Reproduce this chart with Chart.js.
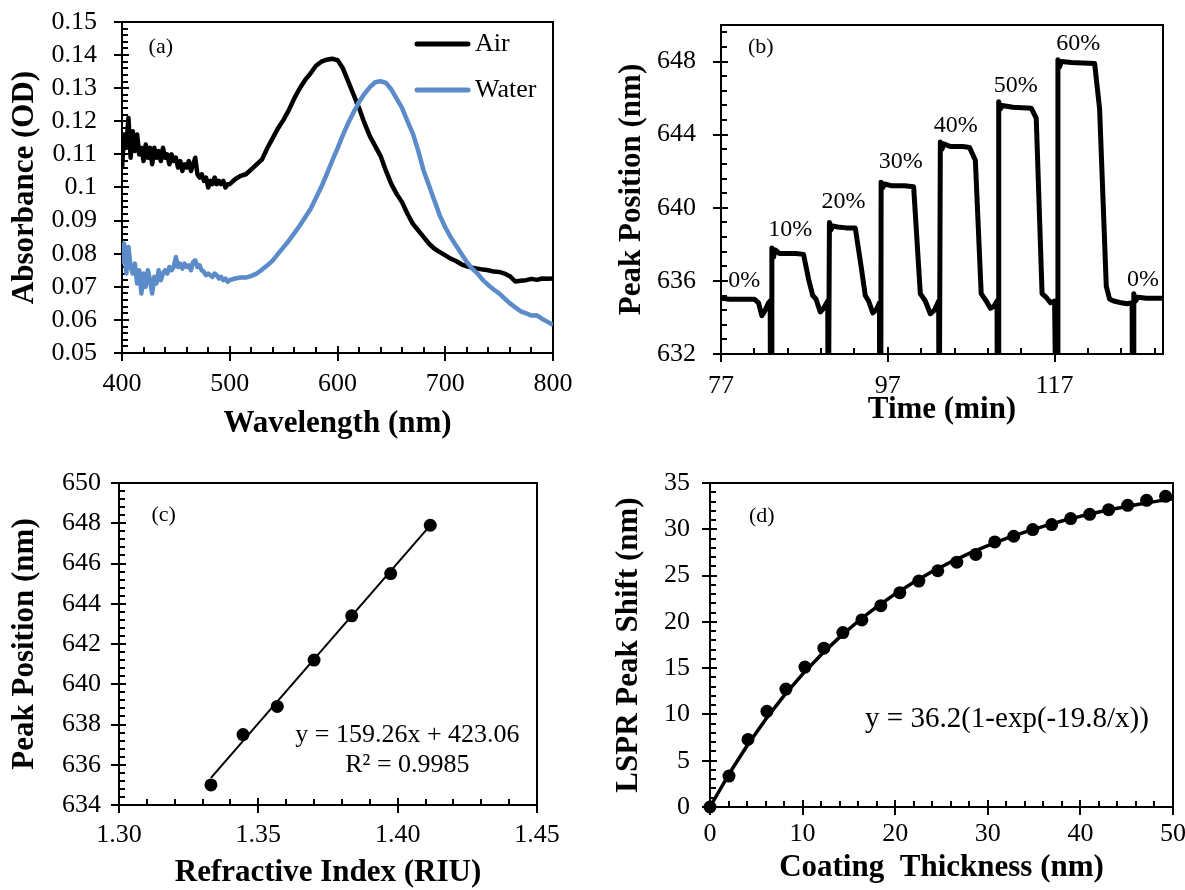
<!DOCTYPE html>
<html><head><meta charset="utf-8">
<script src="https://cdn.jsdelivr.net/npm/chart.js@4.4.1/dist/chart.umd.min.js"></script>
<style>
html,body{margin:0;padding:0;background:#fff;width:1185px;height:890px;overflow:hidden;}
canvas{position:absolute;}
</style></head><body>
<canvas id="ca" width="592" height="445" style="left:0;top:0"></canvas>
<canvas id="cb" width="593" height="445" style="left:592px;top:0"></canvas>
<canvas id="cc" width="592" height="445" style="left:0;top:445px"></canvas>
<canvas id="cd" width="593" height="445" style="left:592px;top:445px"></canvas>
<script>
// ---------- Panel (a): absorbance spectra ----------
const aWavelength = [400,402,404,406,408,410,412,414,416,418,420,422,424,426,428,430,432,434,436,438,440,442,444,446,448,450,452,454,456,458,460,462,464,466,468,470,472,474,476,478,480,482,484,486,488,490,492,494,496,498,500,
505,510,515,520,525,530,535,540,545,550,555,560,565,570,575,580,585,590,595,600,605,610,615,620,625,630,635,640,645,650,655,660,665,670,675,680,685,690,695,700,705,710,715,720,725,730,735,740,745,750,755,760,765,770,775,780,785,790,795,800];
const aAir = [0.106,0.116,0.112,0.121,0.109,0.117,0.111,0.116,0.110,0.112,
0.108,0.113,0.109,0.112,0.107,0.112,0.109,0.111,0.108,0.112,
0.109,0.110,0.107,0.110,0.108,0.109,0.106,0.108,0.105,0.107,
0.106,0.108,0.105,0.107,0.109,0.104,0.103,0.104,0.102,0.103,
0.100,0.102,0.101,0.103,0.101,0.102,0.101,0.102,0.100,0.101,
0.101,
0.1025,0.1035,0.1040,0.1055,0.1070,0.1085,0.1120,0.1150,0.1180,0.1205,
0.1235,0.1270,0.1300,0.1325,0.1345,0.1368,0.1380,0.1386,0.1389,0.1385,
0.1360,0.1320,0.1280,0.1240,0.1195,0.1155,0.1125,0.1095,0.1050,0.1010,
0.0980,0.0955,0.0920,0.0890,0.0870,0.0850,0.0830,0.0815,0.0805,0.0795,
0.0785,0.0778,0.0768,0.0762,0.0758,0.0755,0.0752,0.0750,0.0746,0.0745,
0.0740,0.0732,0.0716,0.0718,0.0720,0.0724,0.0721,0.0725,0.0724,0.0725];
const aWater = [0.077,0.083,0.074,0.082,0.076,0.074,0.077,0.071,0.075,0.068,
0.074,0.070,0.075,0.072,0.068,0.073,0.071,0.075,0.072,0.074,
0.075,0.074,0.076,0.075,0.076,0.079,0.076,0.077,0.0755,0.077,
0.076,0.0765,0.075,0.0775,0.078,0.076,0.0765,0.075,0.0745,0.0735,
0.074,0.0735,0.073,0.074,0.0735,0.0725,0.073,0.072,0.0725,0.0715,
0.072,
0.0725,0.0728,0.0728,0.0733,0.0740,0.0752,0.0765,0.0780,0.0800,0.0820,
0.0840,0.0862,0.0885,0.0910,0.0935,0.0968,0.1002,0.1040,0.1080,0.1118,
0.1158,0.1195,0.1228,0.1258,0.1283,0.1303,0.1318,0.1321,0.1316,0.1296,
0.1268,0.1240,0.1200,0.1163,0.1110,0.1050,0.1005,0.0960,0.0915,0.0880,
0.0850,0.0825,0.0800,0.0775,0.0755,0.0740,0.0720,0.0705,0.0692,0.0680,
0.0665,0.0650,0.0638,0.0626,0.0620,0.0613,0.0614,0.0603,0.0594,0.0585];
const aSeriesNames = ['Air','Water'];
const aXTicks = [400,500,600,700,800];
const aXLabels = ['400','500','600','700','800'];
const aYTicks = [0.05,0.06,0.07,0.08,0.09,0.10,0.11,0.12,0.13,0.14,0.15];
const aYLabels = ['0.05','0.06','0.07','0.08','0.09','0.1','0.11','0.12','0.13','0.14','0.15'];

// ---------- Panel (b): peak position vs time ----------
const bTime = [77,78,79,80,81, 81.5,81.9,82.3,82.7,82.9, 82.95,83.05,83.1,83.3,83.5, 84,85,86,86.9,87.5,
88.0,88.4,88.9,89.3,89.8, 89.85,89.95,90.0,90.2,90.4, 91,92,93.1,93.8,94.3, 94.7,95.2,95.6,96.0,96.05,
96.15,96.2,96.4,96.6,97.5, 99,100.1,100.9,101.5,102.1, 102.6,103.1,103.15,103.25,103.3, 103.5,103.7,104.5,106,106.8,
107.5,108.2,108.8,109.3,109.7, 110.1,110.15,110.25,110.3,110.5, 110.7,112,114.2,114.8,115.5, 116.0,116.5,117.0,117.25,117.35,
117.4,117.6,117.8,119,121.8, 122.4,123.2,123.6,124.1,125.0, 125.7,126.3,126.35,126.45,126.5, 126.7,127,128,129,130];
const bPeak = [635.05,635.0,635.0,635.0,635.0, 634.8,634.1,634.4,634.8,634.9, 625,625,637.8,637.3,637.7, 637.5,637.5,637.5,637.45,636.1,
635.2,635.0,634.3,634.5,634.9, 625,625,639.2,638.8,639.0, 638.95,638.9,638.9,636.8,635.2, 634.9,634.25,634.4,634.8,625,
625,641.4,641.1,641.3,641.2, 641.2,641.15,635.3,634.9,634.2, 634.4,634.9,625,625,643.6, 643.2,643.5,643.35,643.35,643.3,
642.6,635.3,634.9,634.5,634.6, 634.9,625,625,645.8,645.4, 645.6,645.5,645.45,644.9,635.3, 635.1,634.8,634.9,625,625,
648.1,647.7,648.0,647.95,647.9, 645.4,635.7,635.0,634.9,634.8, 634.75,634.8,625,625,635.3, 634.9,635.1,635.05,635.05,635.05];
const bStepText = ['0%','10%','20%','30%','40%','50%','60%','0%'];
const bStepT = [79.8,85.3,91.7,98.56,105.16,112.33,119.83,127.6];
const bStepV = [636.0,638.8,640.35,642.5,644.5,646.69,648.97,636.06];
const bXTicks = [77,97,117];
const bXLabels = ['77','97','117'];
const bYTicks = [632,636,640,644,648];
const bYLabels = ['632','636','640','644','648'];

// ---------- Panel (c): peak position vs refractive index ----------
const cIndex = [1.3330,1.3445,1.3568,1.3700,1.3835,1.3975,1.4117];
const cPeak = [635.0,637.5,638.9,641.2,643.4,645.5,647.9];
const cFitX = [1.3330,1.4117];
const cFitY = [635.35,647.89];
const cXTicks = [1.30,1.35,1.40,1.45];
const cXLabels = ['1.30','1.35','1.40','1.45'];
const cYTicks = [634,636,638,640,642,644,646,648,650];
const cYLabels = ['634','636','638','640','642','644','646','648','650'];

// ---------- Panel (d): LSPR shift vs coating thickness ----------
const dThick = [0,2.05,4.1,6.15,8.2,10.25,12.3,14.35,16.4,18.45,20.5,22.55,24.6,26.65,28.7,30.75,32.8,34.85,36.9,38.95,41.0,43.05,45.1,47.15,49.2];
const dShift = [0,3.34,7.29,10.34,12.74,15.11,17.16,18.84,20.21,21.75,23.15,24.41,25.52,26.45,27.28,28.64,29.25,29.97,30.51,31.16,31.62,32.12,32.59,33.13,33.56];
const dFitX = [0,2,4,6,8,10,12,14,16,18,20,22,24,26,28,30,32,34,36,38,40,42,44,46,48,50];
const dFitY = [0,3.48,6.62,9.46,12.03,14.35,16.45,18.35,20.07,21.61,23.02,24.28,25.43,26.46,27.40,28.24,29.01,29.70,30.32,30.89,31.40,31.86,32.28,32.65,32.99,33.30];
const dXTicks = [0,10,20,30,40,50];
const dXLabels = ['0','10','20','30','40','50'];
const dYTicks = [0,5,10,15,20,25,30,35];
const dYLabels = ['0','5','10','15','20','25','30','35'];

// ---------- helpers ----------
const SERIF = "'Liberation Serif', 'Times New Roman', serif";
Chart.defaults.font.family = SERIF;
Chart.defaults.color = '#000';

const framePlugin = {
  id: 'frame',
  beforeDatasetsDraw(chart, args, o) {
    const {ctx, chartArea: a, scales: {x, y}} = chart;
    ctx.save();
    ctx.strokeStyle = '#000'; ctx.lineWidth = 2; ctx.lineCap = 'butt';
    ctx.strokeRect(a.left, a.top, a.right - a.left, a.bottom - a.top);
    const seg = (x1, y1, x2, y2) => { ctx.beginPath(); ctx.moveTo(x1, y1); ctx.lineTo(x2, y2); ctx.stroke(); };
    for (let k = 0; ; k++) {
      const v = o.xStart + k * o.xMinor;
      if (v > x.max + o.xMinor * 1e-6) break;
      const p = Math.round(x.getPixelForValue(v));
      if (k % o.xEvery === 0) seg(p, a.bottom - 7, p, a.bottom + 8);
      else seg(p, a.bottom - 6, p, a.bottom);
    }
    for (let k = 0; ; k++) {
      const v = o.yStart + k * o.yMinor;
      if (v > y.max + o.yMinor * 1e-6) break;
      const p = Math.round(y.getPixelForValue(v));
      if (k % o.yEvery === 0) seg(a.left - 8, p, a.left + 7, p);
      else seg(a.left, p, a.left + 6, p);
    }
    ctx.restore();
  }
};

const notesPlugin = {
  id: 'notes',
  afterDatasetsDraw(chart, args, o) {
    const {ctx, scales: {x, y}} = chart;
    ctx.save();
    ctx.fillStyle = '#000'; ctx.textAlign = 'center'; ctx.textBaseline = 'middle';
    (o.items || []).forEach(n => {
      ctx.font = n.size + 'px ' + SERIF;
      ctx.fillText(n.text, x.getPixelForValue(n.x), y.getPixelForValue(n.y));
    });
    ctx.restore();
  }
};

const legendPlugin = {
  id: 'inlegend',
  afterDatasetsDraw(chart, args, o) {
    if (!o.show) return;
    const {ctx, chartArea: a} = chart;
    ctx.save();
    chart.data.datasets.forEach((ds, i) => {
      const yy = a.top + o.rowY[i];
      ctx.strokeStyle = ds.borderColor; ctx.lineWidth = 5; ctx.lineCap = 'round';
      ctx.beginPath(); ctx.moveTo(a.right - 136, yy); ctx.lineTo(a.right - 85, yy); ctx.stroke();
      ctx.fillStyle = '#000'; ctx.font = '26px ' + SERIF; ctx.textAlign = 'left'; ctx.textBaseline = 'middle';
      ctx.fillText(ds.label, a.right - 78, yy);
    });
    ctx.restore();
  }
};

function axis(o) {
  return {
    type: 'linear', position: o.pos, min: o.min, max: o.max,
    grid: {display: false, drawTicks: false},
    border: {display: false},
    ticks: {autoSkip: false, maxRotation: 0, minRotation: 0, padding: o.pad,
      font: {size: 26, family: SERIF}, color: '#000',
      callback: (v, i) => o.labels[i]},
    afterBuildTicks: s => { s.ticks = o.values.map(v => ({value: v})); },
    afterFit: s => {
      if (o.pos === 'left') s.width = o.size; else s.height = o.size;
      s.paddingLeft = 0; s.paddingRight = 0; s.paddingTop = 0; s.paddingBottom = 0;
    },
    title: {display: true, text: o.title, color: '#000',
      font: {size: 31, weight: 'bold', family: SERIF, lineHeight: 1},
      padding: o.titlePad}
  };
}

function baseOptions(pad, xAx, yAx, plugins) {
  return {
    responsive: false, animation: false, devicePixelRatio: 1, events: [],
    layout: {padding: pad},
    plugins: Object.assign({legend: {display: false}, tooltip: {enabled: false}}, plugins),
    scales: {x: xAx, y: yAx}
  };
}
const pts = (xs, ys) => xs.map((x, i) => ({x: x, y: ys[i]}));

// ---------- (a) ----------
new Chart(document.getElementById('ca'), {
  type: 'scatter',
  data: {datasets: [
    {label: aSeriesNames[0], data: pts(aWavelength, aAir), showLine: true, borderColor: '#000000', borderWidth: 4.5,
     pointRadius: 0, borderJoinStyle: 'round', order: 1},
    {label: aSeriesNames[1], data: pts(aWavelength, aWater), showLine: true, borderColor: '#5b8bc8', borderWidth: 4.5,
     pointRadius: 0, borderJoinStyle: 'round', order: 0}
  ]},
  options: baseOptions({left: 0, top: 22, right: 39, bottom: 0},
    axis({pos: 'bottom', min: 400, max: 800, values: aXTicks, labels: aXLabels, pad: 16, size: 92,
          title: 'Wavelength (nm)', titlePad: {top: 0, bottom: 5.5}}),
    axis({pos: 'left', min: 0.05, max: 0.15, values: aYTicks, labels: aYLabels, pad: 25, size: 122,
          title: 'Absorbance (OD)', titlePad: {top: 9.5, bottom: 0}}),
    {frame: {xStart: 400, xMinor: 20, xEvery: 5, yStart: 0.05, yMinor: 0.002, yEvery: 5},
     notes: {items: [{x: 436, y: 0.1425, text: '(a)', size: 22}]},
     inlegend: {show: true, rowY: [22, 68]}}),
  plugins: [framePlugin, notesPlugin, legendPlugin]
});

// ---------- (b) ----------
const bNotes = [{x: 81.77, y: 648.77, text: '(b)', size: 22}].concat(
  bStepText.map((t, i) => ({x: bStepT[i], y: bStepV[i], text: t, size: 24})));
new Chart(document.getElementById('cb'), {
  type: 'scatter',
  data: {datasets: [
    {label: 'Peak', data: pts(bTime, bPeak), showLine: true, borderColor: '#000', borderWidth: 5,
     pointRadius: 0, borderJoinStyle: 'round', clip: 0}
  ]},
  options: baseOptions({left: 0, top: 25, right: 22, bottom: 0},
    axis({pos: 'bottom', min: 77, max: 130, values: bXTicks, labels: bXLabels, pad: 17, size: 91,
          title: 'Time (min)', titlePad: {top: 0, bottom: 19.5}}),
    axis({pos: 'left', min: 632, max: 650, values: bYTicks, labels: bYLabels, pad: 25, size: 129,
          title: 'Peak Position (nm)', titlePad: {top: 24.5, bottom: 0}}),
    {frame: {xStart: 77, xMinor: 4, xEvery: 5, yStart: 632, yMinor: 0.8, yEvery: 5},
     notes: {items: bNotes}}),
  plugins: [framePlugin, notesPlugin]
});

// ---------- (c) ----------
new Chart(document.getElementById('cc'), {
  type: 'scatter',
  data: {datasets: [
    {label: 'Data', data: pts(cIndex, cPeak), pointRadius: 6.5, backgroundColor: '#000', borderWidth: 0, clip: false, order: 0},
    {label: 'Linear fit', data: pts(cFitX, cFitY), showLine: true, borderColor: '#000', borderWidth: 2, pointRadius: 0, order: 1}
  ]},
  options: baseOptions({left: 0, top: 38, right: 55, bottom: 0},
    axis({pos: 'bottom', min: 1.30, max: 1.45, values: cXTicks, labels: cXLabels, pad: 15, size: 85,
          title: 'Refractive Index (RIU)', titlePad: {top: 0, bottom: 1.5}}),
    axis({pos: 'left', min: 634, max: 650, values: cYTicks, labels: cYLabels, pad: 18, size: 119,
          title: 'Peak Position (nm)', titlePad: {top: 9.5, bottom: 0}}),
    {frame: {xStart: 1.30, xMinor: 0.01, xEvery: 5, yStart: 634, yMinor: 0.4, yEvery: 5},
     notes: {items: [
       {x: 1.316, y: 648.41, text: '(c)', size: 22},
       {x: 1.4035, y: 637.48, text: 'y = 159.26x + 423.06', size: 26},
       {x: 1.4035, y: 635.99, text: 'R² = 0.9985', size: 26}]}}),
  plugins: [framePlugin, notesPlugin]
});

// ---------- (d) ----------
new Chart(document.getElementById('cd'), {
  type: 'scatter',
  data: {datasets: [
    {label: 'Data', data: pts(dThick, dShift), pointRadius: 6.5, backgroundColor: '#000', borderWidth: 0, clip: false, order: 1},
    {label: 'Fit', data: pts(dFitX, dFitY), showLine: true, borderColor: '#000', borderWidth: 3.5, pointRadius: 0,
     borderJoinStyle: 'round', clip: false, order: 0}
  ]},
  options: baseOptions({left: 0, top: 38, right: 12, bottom: 0},
    axis({pos: 'bottom', min: 0, max: 50, values: dXTicks, labels: dXLabels, pad: 12, size: 83,
          title: 'Coating  Thickness (nm)', titlePad: {top: 0, bottom: 6.5}}),
    axis({pos: 'left', min: 0, max: 35, values: dYTicks, labels: dYLabels, pad: 20, size: 118,
          title: 'LSPR Peak Shift (nm)', titlePad: {top: 21.5, bottom: 0}}),
    {frame: {xStart: 0, xMinor: 2, xEvery: 5, yStart: 0, yMinor: 1, yEvery: 5},
     notes: {items: [
       {x: 5.6, y: 31.36, text: '(d)', size: 22},
       {x: 32.07, y: 9.44, text: 'y = 36.2(1-exp(-19.8/x))', size: 29}]}}),
  plugins: [framePlugin, notesPlugin]
});
</script>
</body></html>
